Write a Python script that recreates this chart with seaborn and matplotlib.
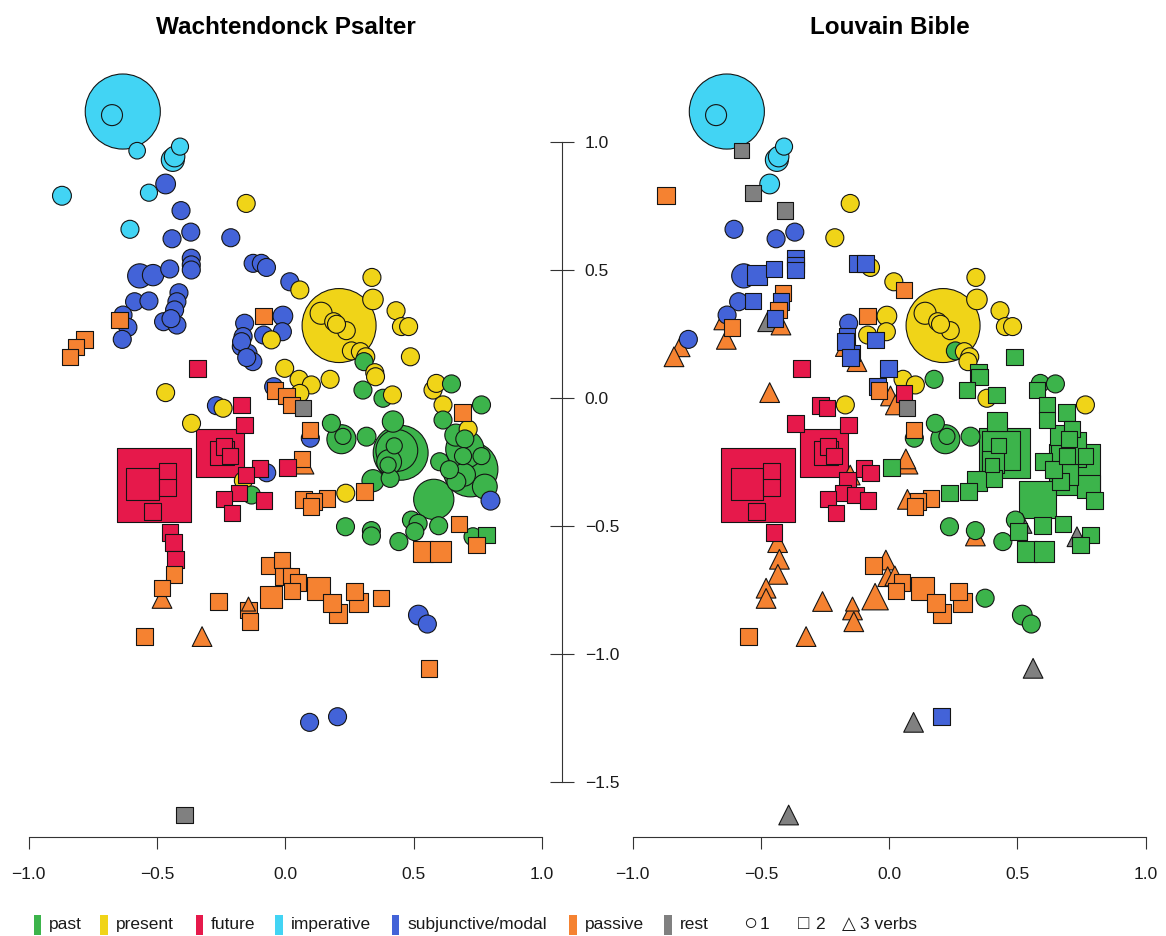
import numpy as np
import pandas as pd
import matplotlib
matplotlib.use("Agg")
import matplotlib.pyplot as plt
from matplotlib.patches import Rectangle
import seaborn as sns

sns.set_theme(style="white")
plt.rcParams['font.family'] = ['Liberation Sans', 'DejaVu Sans']
plt.rcParams['text.color'] = 'black'

# ---------------- data (shared map coordinates of the verb contexts) ----------------
x = [
    -0.633, -0.675, -0.577, -0.438, -0.431, -0.410, -0.870, -0.531, -0.466, -0.406,
    -0.605, -0.368, -0.441, -0.212, -0.152, -0.366, -0.366, -0.366, -0.567, -0.515,
    -0.450, -0.125, -0.093, -0.073, 0.018, 0.057, -0.587, -0.531, -0.414, -0.422,
    -0.431, -0.474, -0.422, -0.445, -0.632, -0.645, -0.613, -0.635, -0.783, -0.815,
    -0.839, -0.084, -0.009, -0.011, -0.084, -0.054, -0.158, -0.164, -0.171, -0.145,
    -0.126, -0.170, -0.150, -0.342, -0.466, -0.002, -0.045, -0.040, 0.054, 0.102,
    0.057, 0.005, 0.024, 0.069, -0.171, -0.268, -0.242, -0.158, -0.365, 0.096,
    0.098, 0.210, 0.140, 0.189, 0.238, 0.200, 0.338, 0.342, 0.432, 0.453,
    0.481, 0.488, 0.258, 0.293, 0.314, 0.307, 0.349, 0.352, 0.175, 0.303,
    0.381, 0.418, 0.576, 0.589, 0.648, 0.615, 0.691, 0.765, 0.615, 0.713,
    0.665, 0.180, 0.219, 0.225, 0.317, 0.420, 0.450, 0.435, 0.425, 0.401,
    0.405, 0.342, 0.409, 0.236, 0.310, 0.162, 0.071, 0.112, 0.100, 0.068,
    0.065, 0.008, -0.510, -0.556, -0.459, -0.459, -0.517, -0.253, -0.245, -0.239,
    -0.215, -0.099, -0.072, -0.152, -0.163, -0.180, -0.131, -0.239, -0.083, -0.208,
    -0.449, -0.435, -0.428, -0.434, -0.480, -0.480, -0.549, -0.324, -0.260, -0.143,
    -0.138, -0.143, -0.062, -0.013, -0.055, -0.006, 0.022, 0.050, 0.026, 0.130,
    0.182, 0.206, 0.270, 0.286, 0.374, 0.561, 0.519, 0.554, 0.095, 0.204,
    -0.392, 0.235, 0.336, 0.336, 0.443, 0.492, 0.518, 0.505, 0.598, 0.678,
    0.732, 0.784, 0.745, 0.537, 0.605, 0.579, 0.722, 0.693, 0.765, 0.667,
    0.778, 0.602, 0.697, 0.800, 0.700, 0.700, 0.640,
]
y = [
    1.119, 1.105, 0.966, 0.930, 0.943, 0.982, 0.790, 0.802, 0.836, 0.732,
    0.659, 0.648, 0.622, 0.626, 0.760, 0.546, 0.520, 0.500, 0.477, 0.480,
    0.504, 0.526, 0.526, 0.510, 0.454, 0.422, 0.376, 0.379, 0.411, 0.376,
    0.344, 0.298, 0.285, 0.310, 0.324, 0.305, 0.276, 0.229, 0.229, 0.200,
    0.161, 0.320, 0.320, 0.259, 0.246, 0.227, 0.292, 0.240, 0.201, 0.175,
    0.142, 0.220, 0.158, 0.115, 0.021, 0.116, 0.044, 0.030, 0.073, 0.051,
    0.018, 0.008, -0.027, -0.040, -0.027, -0.030, -0.040, -0.105, -0.099, -0.125,
    -0.157, 0.283, 0.331, 0.298, 0.263, 0.288, 0.471, 0.385, 0.341, 0.279,
    0.279, 0.161, 0.184, 0.181, 0.161, 0.142, 0.099, 0.083, 0.073, 0.031,
    -0.001, 0.012, 0.031, 0.057, 0.055, -0.027, -0.056, -0.027, -0.086, -0.122,
    -0.145, -0.099, -0.161, -0.150, -0.151, -0.092, -0.214, -0.205, -0.187, -0.262,
    -0.250, -0.323, -0.314, -0.372, -0.366, -0.392, -0.396, -0.405, -0.424, -0.253,
    -0.238, -0.271, -0.338, -0.336, -0.288, -0.349, -0.444, -0.216, -0.215, -0.190,
    -0.226, -0.275, -0.292, -0.301, -0.323, -0.372, -0.379, -0.394, -0.401, -0.450,
    -0.526, -0.565, -0.630, -0.689, -0.743, -0.783, -0.932, -0.932, -0.795, -0.828,
    -0.874, -0.805, -0.655, -0.633, -0.776, -0.698, -0.695, -0.720, -0.753, -0.743,
    -0.799, -0.841, -0.756, -0.799, -0.782, -1.056, -0.848, -0.883, -1.267, -1.245,
    -1.629, -0.503, -0.518, -0.539, -0.561, -0.477, -0.490, -0.522, -0.499, -0.492,
    -0.542, -0.535, -0.574, -0.600, -0.600, -0.396, -0.279, -0.227, -0.227, -0.327,
    -0.346, -0.249, -0.300, -0.401, -0.200, -0.160, -0.280,
]
# relative frequency of each context (symbol area is proportional to it)
weight = [
    17.4, 1.36, 0.85, 1.63, 1.3, 0.9, 1.1, 0.9, 1.2, 1.0,
    1.0, 1.0, 1.0, 1.0, 1.0, 1.0, 1.0, 1.0, 1.8, 1.4,
    1.0, 1.0, 1.0, 1.0, 1.0, 1.0, 1.0, 1.0, 1.0, 1.0,
    1.0, 1.0, 1.0, 1.0, 1.0, 1.0, 1.0, 1.0, 1.0, 1.0,
    1.0, 1.0, 1.2, 1.0, 1.0, 1.0, 1.0, 1.0, 1.0, 1.0,
    1.0, 1.0, 1.0, 1.0, 1.0, 1.0, 1.0, 1.0, 1.0, 1.0,
    1.0, 1.0, 1.0, 1.0, 1.0, 1.0, 1.0, 1.0, 1.0, 1.0,
    1.0, 16.9, 1.5, 1.0, 1.0, 1.0, 1.0, 1.3, 1.0, 1.0,
    1.0, 1.0, 1.0, 1.0, 1.0, 1.0, 1.0, 1.0, 1.0, 1.0,
    1.0, 1.0, 1.0, 1.0, 1.0, 1.0, 1.0, 1.0, 1.0, 1.0,
    1.5, 1.0, 2.6, 0.8, 1.1, 1.4, 9.3, 5.4, 0.8, 0.8,
    1.9, 1.5, 1.0, 1.0, 1.0, 1.0, 1.0, 1.0, 1.0, 1.3,
    1.0, 1.0, 20.1, 3.8, 1.0, 1.0, 1.0, 8.5, 2.1, 1.0,
    1.0, 1.0, 1.0, 1.0, 1.0, 1.0, 1.0, 1.0, 1.0, 1.0,
    1.0, 1.0, 1.0, 1.0, 1.0, 1.0, 1.0, 1.0, 1.0, 1.0,
    1.0, 0.5, 1.0, 1.0, 1.8, 1.0, 1.0, 1.0, 1.0, 2.0,
    1.2, 1.3, 1.0, 1.3, 1.0, 1.0, 1.2, 1.0, 1.0, 1.0,
    1.0, 1.0, 1.0, 1.0, 1.0, 1.0, 1.0, 1.0, 1.0, 1.0,
    1.0, 1.0, 1.0, 1.5, 1.5, 5.0, 9.3, 0.9, 0.9, 1.1,
    1.9, 1.0, 1.6, 1.1, 4.5, 1.0, 1.0,
]
# Wachtendonck Psalter: tense category and number of verbs
wp_cat = [
    "im", "im", "im", "im", "im", "im", "im", "im", "su", "su",
    "im", "su", "su", "su", "pr", "su", "su", "su", "su", "su",
    "su", "su", "su", "su", "su", "pr", "su", "su", "su", "su",
    "su", "su", "su", "su", "su", "ps", "su", "su", "ps", "ps",
    "ps", "ps", "su", "su", "su", "pr", "su", "su", "su", "su",
    "su", "su", "su", "fu", "pr", "pr", "su", "ps", "pr", "pr",
    "pr", "ps", "ps", "re", "fu", "su", "pr", "fu", "pr", "ps",
    "su", "pr", "pr", "pr", "pr", "pr", "pr", "pr", "pr", "pr",
    "pr", "pr", "pr", "pr", "pr", "pa", "pr", "pr", "pr", "pa",
    "pa", "pr", "pr", "pr", "pa", "pr", "ps", "pa", "pa", "pr",
    "pa", "pa", "pa", "pa", "pa", "pa", "pa", "pa", "pa", "pa",
    "pa", "pa", "pa", "pr", "ps", "ps", "ps", "ps", "ps", "ps",
    "ps", "fu", "fu", "fu", "fu", "fu", "fu", "fu", "fu", "fu",
    "fu", "fu", "su", "fu", "pr", "fu", "pa", "fu", "fu", "fu",
    "fu", "fu", "fu", "ps", "ps", "ps", "ps", "ps", "ps", "ps",
    "ps", "ps", "ps", "ps", "ps", "ps", "ps", "ps", "ps", "ps",
    "ps", "ps", "ps", "ps", "ps", "ps", "su", "su", "su", "su",
    "re", "pa", "pa", "pa", "pa", "pa", "pa", "pa", "pa", "ps",
    "pa", "pa", "ps", "ps", "ps", "pa", "pa", "pa", "pa", "pa",
    "pa", "pa", "pa", "su", "pa", "pa", "pa",
]
wp_verbs = [
    1, 1, 1, 1, 1, 1, 1, 1, 1, 1,
    1, 1, 1, 1, 1, 1, 1, 1, 1, 1,
    1, 1, 1, 1, 1, 1, 1, 1, 1, 1,
    1, 1, 1, 1, 1, 2, 1, 1, 2, 2,
    2, 2, 1, 1, 1, 1, 1, 1, 1, 1,
    1, 1, 1, 2, 1, 1, 1, 2, 1, 1,
    1, 2, 2, 2, 2, 1, 1, 2, 1, 2,
    1, 1, 1, 1, 1, 1, 1, 1, 1, 1,
    1, 1, 1, 1, 1, 1, 1, 1, 1, 1,
    1, 1, 1, 1, 1, 1, 2, 1, 1, 1,
    1, 1, 1, 1, 1, 1, 1, 1, 1, 1,
    1, 1, 1, 1, 2, 2, 2, 2, 2, 3,
    2, 2, 2, 2, 2, 2, 2, 2, 2, 2,
    2, 2, 1, 2, 1, 2, 1, 2, 2, 2,
    2, 2, 2, 2, 2, 3, 2, 3, 2, 2,
    2, 3, 2, 2, 2, 2, 2, 2, 2, 2,
    2, 2, 2, 2, 2, 2, 1, 1, 1, 1,
    2, 1, 1, 1, 1, 1, 1, 1, 1, 2,
    1, 2, 2, 2, 2, 1, 1, 1, 1, 1,
    1, 1, 1, 1, 1, 1, 1,
]
# Louvain Bible: tense category and number of verbs
lb_cat = [
    "im", "im", "re", "im", "im", "im", "ps", "re", "im", "re",
    "su", "su", "su", "pr", "pr", "su", "su", "su", "su", "su",
    "su", "su", "su", "pr", "pr", "ps", "su", "su", "ps", "su",
    "ps", "re", "ps", "su", "su", "ps", "ps", "ps", "su", "ps",
    "ps", "ps", "pr", "pr", "pr", "su", "su", "su", "ps", "su",
    "ps", "su", "su", "fu", "ps", "su", "su", "ps", "pr", "pr",
    "fu", "ps", "ps", "re", "pr", "fu", "fu", "fu", "fu", "ps",
    "pa", "pr", "pr", "pr", "pr", "pr", "pr", "pr", "pr", "pr",
    "pr", "pa", "pa", "pr", "pr", "pr", "pa", "pa", "pa", "pa",
    "pr", "pa", "pa", "pa", "pa", "pa", "pa", "pr", "pa", "pa",
    "pa", "pa", "pa", "pa", "pa", "pa", "pa", "pa", "pa", "pa",
    "pa", "pa", "pa", "pa", "pa", "ps", "ps", "ps", "ps", "ps",
    "ps", "pa", "fu", "fu", "fu", "fu", "fu", "fu", "fu", "fu",
    "fu", "fu", "fu", "ps", "fu", "fu", "fu", "fu", "fu", "fu",
    "fu", "ps", "ps", "ps", "ps", "ps", "ps", "ps", "ps", "ps",
    "ps", "ps", "ps", "ps", "ps", "ps", "ps", "ps", "ps", "ps",
    "ps", "ps", "ps", "ps", "pa", "re", "pa", "pa", "re", "su",
    "re", "pa", "pa", "ps", "pa", "pa", "re", "pa", "pa", "pa",
    "re", "pa", "pa", "pa", "pa", "pa", "pa", "pa", "pa", "pa",
    "pa", "pa", "pa", "pa", "pa", "pa", "pa",
]
lb_verbs = [
    1, 1, 2, 1, 1, 1, 2, 2, 1, 2,
    1, 1, 1, 1, 1, 2, 2, 2, 1, 2,
    2, 2, 2, 1, 1, 2, 1, 2, 2, 2,
    2, 3, 3, 2, 1, 3, 2, 3, 1, 3,
    3, 2, 1, 1, 1, 2, 1, 2, 3, 2,
    3, 2, 2, 2, 3, 2, 2, 2, 1, 1,
    2, 3, 3, 2, 1, 2, 2, 2, 2, 2,
    1, 1, 1, 1, 1, 1, 1, 1, 1, 1,
    1, 2, 1, 1, 1, 1, 2, 2, 1, 2,
    1, 2, 2, 1, 1, 2, 2, 1, 2, 2,
    2, 1, 1, 1, 1, 2, 2, 2, 2, 2,
    2, 2, 2, 2, 2, 2, 3, 2, 2, 3,
    3, 2, 2, 2, 2, 2, 2, 2, 2, 2,
    2, 2, 2, 3, 2, 2, 2, 2, 2, 2,
    2, 3, 3, 3, 3, 3, 2, 3, 3, 3,
    3, 3, 2, 3, 3, 3, 3, 2, 2, 2,
    2, 2, 2, 2, 1, 3, 1, 1, 3, 2,
    3, 1, 1, 3, 1, 1, 3, 2, 2, 2,
    3, 2, 2, 2, 2, 2, 2, 2, 2, 2,
    2, 2, 2, 2, 2, 2, 2,
]

categories = ["past", "present", "future", "imperative", "subjunctive/modal", "passive", "rest"]
codes = ["pa", "pr", "fu", "im", "su", "ps", "re"]
colors = ["#3cb44b", "#f0d418", "#e6194b", "#42d4f4", "#4363d8", "#f58231", "#808080"]
titles = ["Wachtendonck Psalter", "Louvain Bible"]
shape_labels = ["\u25cb", "1", "\u25a1", "2", "\u25b3", "3 verbs"]

code2cat = dict(zip(codes, categories))
palette = dict(zip(categories, colors))
markers = {1: "o", 2: "s", 3: "^"}
shape_area = {1: 1.0, 2: 0.84, 3: 1.2}
base_area = (18 * 0.72) ** 2

W, H = 1166, 936
fig = plt.figure(figsize=(W / 100, H / 100), dpi=100)
ylim = (-1.7137, 1.5547)
ax_h = 836.7 / H
ax1 = fig.add_axes([28.6 / W, 1 - 836.7 / H, 513.2 / W, ax_h])
ax2 = fig.add_axes([632.7 / W, 1 - 836.7 / H, 513.0 / W, ax_h])

panels = [(ax1, wp_cat, wp_verbs), (ax2, lb_cat, lb_verbs)]
for ax, cats, verbs in panels:
    df = pd.DataFrame({"x": x, "y": y, "w": weight,
                       "cat": [code2cat[c] for c in cats], "verbs": verbs})
    df["area"] = base_area * df["w"] * df["verbs"].map(shape_area)
    df = df.sort_values("area", ascending=False, kind="stable")
    amin, amax = df["area"].min(), df["area"].max()
    sns.scatterplot(data=df, x="x", y="y", hue="cat", palette=palette,
                    hue_order=categories, style="verbs", markers=markers,
                    size="area", sizes=(amin, amax), size_norm=(amin, amax),
                    edgecolor="#141414", linewidth=0.8, legend=False,
                    ax=ax, clip_on=False)
    ax.set_xlim(-1, 1)
    ax.set_ylim(*ylim)
    ax.set_xlabel("")
    ax.set_ylabel("")
    ax.set_facecolor("none")
    for s in ["top", "left", "right"]:
        ax.spines[s].set_visible(False)
    ax.spines["bottom"].set_bounds(-1, 1)
    ax.spines["bottom"].set_color("#333333")
    ax.spines["bottom"].set_linewidth(0.8)
    xt = [-1.0, -0.5, 0.0, 0.5, 1.0]
    ax.set_xticks(xt)
    ax.set_xticklabels([f"{v:.1f}".replace("-", "\u2212") for v in xt])
    ax.tick_params(axis="x", direction="out", length=8.6, width=0.8, pad=13.0,
                   labelsize=12.5, colors="#333333", labelcolor="#1a1a1a", bottom=True)
    ax.set_yticks([])

# shared vertical axis between the panels
ax1.spines["right"].set_visible(True)
ax1.spines["right"].set_position(("axes", 1.040))
ax1.spines["right"].set_bounds(-1.5, 1.0)
ax1.spines["right"].set_color("#333333")
ax1.spines["right"].set_linewidth(0.8)
yt = [-1.5, -1.0, -0.5, 0.0, 0.5, 1.0]
ax1.set_yticks(yt)
ax1.set_yticklabels([f"{v:.1f}".replace("-", "\u2212") for v in yt])
ax1.yaxis.tick_right()
ax1.tick_params(axis="y", direction="inout", length=17.3, width=0.8, pad=7.5,
                labelsize=12.5, colors="#333333", labelcolor="#1a1a1a",
                left=False, right=True, labelleft=False, labelright=True)

# titles
fig.text(285.5 / W, 1 - 27 / H, titles[0], ha="center", va="center",
         fontsize=17.5, fontweight="bold", color="black")
fig.text(889.5 / W, 1 - 27 / H, titles[1], ha="center", va="center",
         fontsize=17.5, fontweight="bold", color="black")

# legend along the bottom
patch_x = [33.5, 100, 195.5, 275, 392, 569, 664]
for px, cat in zip(patch_x, categories):
    fig.add_artist(Rectangle((px / W, 1 - 935 / H), 7.5 / W, 20 / H,
                             transform=fig.transFigure, facecolor=palette[cat],
                             edgecolor="none"))
    fig.text((px + 15.5) / W, 1 - 924.5 / H, cat, ha="left", va="center",
             fontsize=12.5, color="#1a1a1a")
shape_x = [743, 760, 798, 815, 842, 860]
shape_fs = [17, 12.5, 13.5, 12.5, 13, 12.5]
for sx, lab, fs in zip(shape_x, shape_labels, shape_fs):
    fig.text(sx / W, 1 - 924.5 / H, lab, ha="left", va="center",
             fontsize=fs, color="#1a1a1a")

fig.savefig("out.png", dpi=100)
